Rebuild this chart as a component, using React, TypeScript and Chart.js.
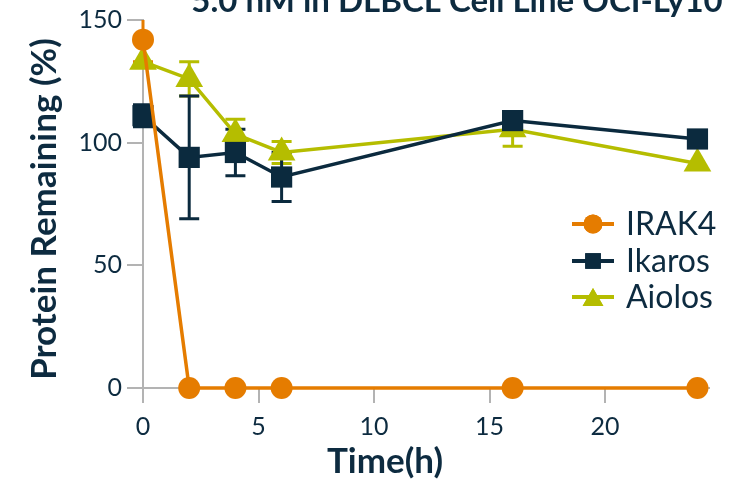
import React, { useEffect, useRef } from 'react';
import { Chart, registerables } from 'chart.js';
import { drawPoint } from 'chart.js/helpers';

Chart.register(...registerables);

const chartTitle = '5.0 nM in DLBCL Cell Line OCI-Ly10';
const xAxisTitle = 'Time(h)';
const yAxisTitle = 'Protein Remaining (%)';

const timePoints = [0, 2, 4, 6, 16, 24];
const seriesNames = ['IRAK4', 'Ikaros', 'Aiolos'];
const irak4Values = [142, 0, 0, 0, 0, 0];
const irak4Errors = [9, 0, 0, 0, 0, 0];
const ikarosValues = [111, 94, 96, 86, 109, 101.5];
const ikarosErrors = [4.5, 25, 9.5, 10, 3, 0];
const aiolosValues = [133, 126, 103.5, 96, 105.5, 91.5];
const aiolosErrors = [0, 7, 6, 4.5, 7, 0];

const xTicks = [0, 5, 10, 15, 20];
const yTicks = [0, 50, 100, 150];

const ORANGE = '#e57c00';
const NAVY = '#0b2a3e';
const LIME = '#b5bd00';
const AXIS = '#b3b3b3';
const TEXT = '#0d2b40';

const seriesColors = [ORANGE, NAVY, LIME];
const seriesStyles = ['circle', 'rect', 'triangle'];
const seriesRadius = [11, 15, 16];
const legendRadius = [9.5, 11, 12];
const seriesValues = [irak4Values, ikarosValues, aiolosValues];
const seriesErrors = [irak4Errors, ikarosErrors, aiolosErrors];

const errorBarPlugin = {
  id: 'errorBars',
  beforeDatasetsDraw(chart: any) {
    const ctx = chart.ctx;
    const xs = chart.scales.x;
    const ys = chart.scales.y;
    const area = chart.chartArea;
    ctx.save();
    ctx.beginPath();
    ctx.rect(0, area.top, chart.width, chart.height - area.top);
    ctx.clip();
    for (let s = seriesValues.length - 1; s >= 0; s--) {
      ctx.strokeStyle = seriesColors[s];
      ctx.lineWidth = 3;
      seriesValues[s].forEach((v, i) => {
        const e = seriesErrors[s][i];
        if (!e) return;
        const px = xs.getPixelForValue(timePoints[i]);
        const top = ys.getPixelForValue(v + e);
        const bot = ys.getPixelForValue(v - e);
        ctx.beginPath();
        ctx.moveTo(px, top);
        ctx.lineTo(px, bot);
        ctx.moveTo(px - 10, top);
        ctx.lineTo(px + 10, top);
        ctx.moveTo(px - 10, bot);
        ctx.lineTo(px + 10, bot);
        ctx.stroke();
      });
    }
    ctx.restore();
  },
};

const textPlugin = {
  id: 'texts',
  afterDraw(chart: any) {
    const ctx = chart.ctx;
    const area = chart.chartArea;
    ctx.save();
    ctx.fillStyle = TEXT;
    ctx.textAlign = 'center';
    ctx.textBaseline = 'alphabetic';
    ctx.font = 'bold 33px Lato';
    ctx.fillText(chartTitle, 457, 12);
    ctx.font = 'bold 35px Lato';
    ctx.fillText(xAxisTitle, 385, 473);
    ctx.save();
    ctx.translate(56, (area.top + area.bottom) / 2 + 5);
    ctx.rotate(-Math.PI / 2);
    ctx.font = 'bold 35px Lato';
    ctx.fillText(yAxisTitle, 0, 0);
    ctx.restore();

    // legend
    const rows = [224, 261, 297];
    seriesNames.forEach((name, i) => {
      const y = rows[i];
      ctx.strokeStyle = seriesColors[i];
      ctx.lineWidth = 4;
      ctx.beginPath();
      ctx.moveTo(572, y);
      ctx.lineTo(614, y);
      ctx.stroke();
      ctx.fillStyle = seriesColors[i];
      drawPoint(ctx, { pointStyle: seriesStyles[i], radius: legendRadius[i], borderWidth: 0, rotation: 0 } as any, 593, y + (i === 2 ? 3 : 0));
      ctx.fill();
      ctx.fillStyle = TEXT;
      ctx.textAlign = 'left';
      ctx.textBaseline = 'middle';
      ctx.font = '32px Lato';
      ctx.fillText(name, 626, y + 1);
    });
    ctx.restore();
  },
};

export default function App() {
  const ref = useRef<HTMLCanvasElement>(null);
  useEffect(() => {
    if (!ref.current) return;
    const datasets = seriesNames.map((name, s) => ({
      label: name,
      data: timePoints.map((t, i) => ({ x: t, y: seriesValues[s][i] })),
      borderColor: seriesColors[s],
      backgroundColor: seriesColors[s],
      pointBackgroundColor: seriesColors[s],
      pointBorderColor: seriesColors[s],
      pointBorderWidth: 0,
      pointStyle: seriesStyles[s],
      pointRadius: seriesRadius[s],
      borderWidth: 3.5,
      clip: false,
      tension: 0,
    }));
    const chart = new Chart(ref.current, {
      type: 'line',
      data: { datasets } as any,
      options: {
        animation: false,
        responsive: false,
        devicePixelRatio: 1,
        layout: { padding: { top: 19, right: 29, left: 0, bottom: 0 } },
        plugins: { legend: { display: false }, title: { display: false }, tooltip: { enabled: false } },
        scales: {
          x: {
            type: 'linear',
            min: 0,
            max: 24.5,
            afterBuildTicks: (s: any) => { s.ticks = xTicks.map((v) => ({ value: v })); },
            afterFit: (s: any) => { s.height = 91; },
            ticks: { color: TEXT, font: { family: 'Lato', size: 25 }, padding: 9 },
            grid: { drawOnChartArea: false, drawTicks: true, tickLength: 15, color: AXIS, lineWidth: 2 },
            border: { display: true, color: AXIS, width: 2 },
          },
          y: {
            type: 'linear',
            min: 0,
            max: 150,
            afterBuildTicks: (s: any) => { s.ticks = yTicks.map((v) => ({ value: v })); },
            afterFit: (s: any) => { s.width = 143; },
            ticks: { color: TEXT, font: { family: 'Lato', size: 25 }, padding: 5 },
            grid: { drawOnChartArea: false, drawTicks: true, tickLength: 16, color: AXIS, lineWidth: 2 },
            border: { display: true, color: AXIS, width: 2 },
          },
        },
      } as any,
      plugins: [errorBarPlugin, textPlugin],
    });
    return () => chart.destroy();
  }, []);
  return (
    <div style={{ position: 'fixed', left: 0, top: 0, width: 738, height: 479, background: '#fff' }}>
      <canvas ref={ref} width={738} height={479} style={{ width: 738, height: 479, display: 'block' }} />
    </div>
  );
}
